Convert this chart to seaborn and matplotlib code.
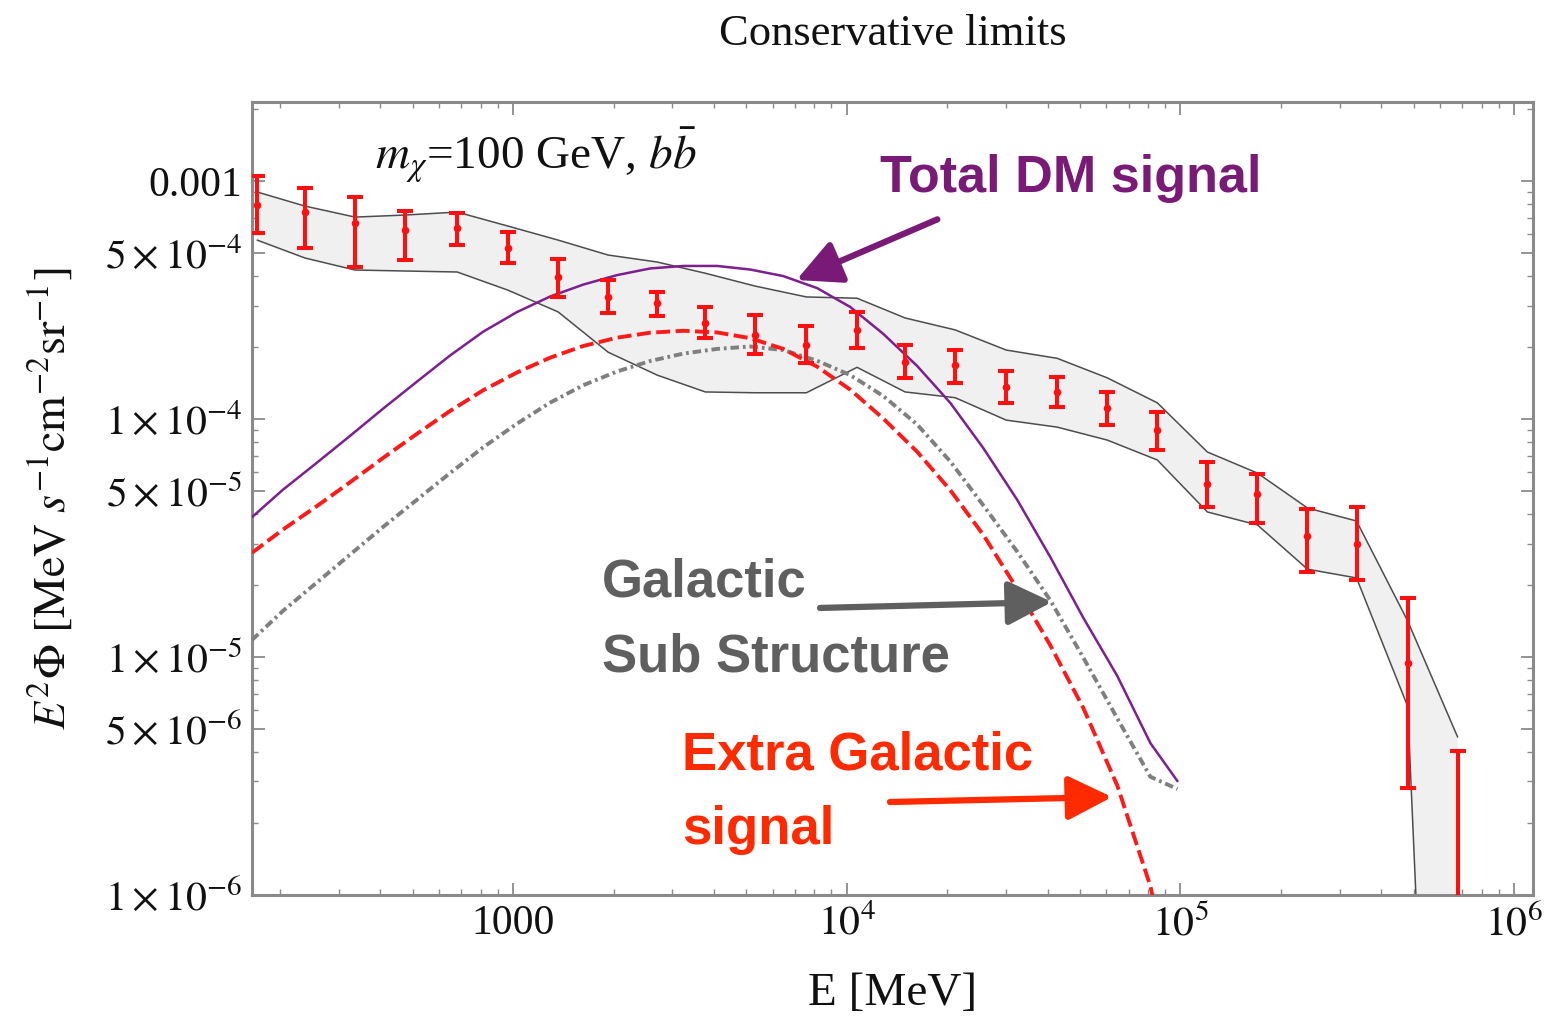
import numpy as np
import pandas as pd
import matplotlib
matplotlib.use("Agg")
import matplotlib.pyplot as plt
import seaborn as sns
from matplotlib.ticker import FixedLocator, FixedFormatter, LogLocator, NullFormatter

# ---------------- data ----------------
energy_data = [171, 238, 336, 474, 680, 966, 1365, 1927, 2704, 3770, 5320, 7570,
               10740, 14960, 21130, 30060, 42740, 60390, 85300, 120500, 170200,
               240400, 337200, 479700, 677600]
flux_mid = [7.93e-4, 7.41e-4, 6.66e-4, 6.22e-4, 6.35e-4, 5.23e-4, 3.95e-4, 3.26e-4,
            3.07e-4, 2.53e-4, 2.25e-4, 2.05e-4, 2.37e-4, 1.73e-4, 1.69e-4, 1.36e-4,
            1.30e-4, 1.11e-4, 9.0e-5, 5.33e-5, 4.84e-5, 3.22e-5, 2.98e-5, 9.44e-6, 3.0e-7]
flux_hi = [1.05e-3, 9.35e-4, 8.57e-4, 7.48e-4, 7.34e-4, 6.11e-4, 4.70e-4, 3.84e-4,
           3.42e-4, 2.96e-4, 2.74e-4, 2.46e-4, 2.82e-4, 2.05e-4, 1.95e-4, 1.59e-4,
           1.50e-4, 1.30e-4, 1.07e-4, 6.59e-5, 5.87e-5, 4.19e-5, 4.27e-5, 1.77e-5, 4.03e-6]
flux_lo = [6.05e-4, 5.23e-4, 4.35e-4, 4.66e-4, 5.38e-4, 4.52e-4, 3.26e-4, 2.79e-4,
           2.71e-4, 2.19e-4, 1.87e-4, 1.72e-4, 1.99e-4, 1.49e-4, 1.42e-4, 1.17e-4,
           1.12e-4, 9.44e-5, 7.41e-5, 4.27e-5, 3.66e-5, 2.28e-5, 2.11e-5, 2.82e-6, 1e-8]
band_upper = [9.0e-4, 7.85e-4, 7.06e-4, 7.2e-4, 7.41e-4, 6.47e-4, 5.65e-4, 4.89e-4,
              4.57e-4, 4.10e-4, 3.62e-4, 3.26e-4, 3.22e-4, 2.66e-4, 2.37e-4, 1.95e-4,
              1.80e-4, 1.49e-4, 1.17e-4, 7.27e-5, 5.93e-5, 4.23e-5, 3.73e-5, 1.42e-5, 4.61e-6]
band_lower = [5.65e-4, 4.75e-4, 4.23e-4, 4.19e-4, 4.15e-4, 3.48e-4, 2.82e-4, 1.91e-4,
              1.53e-4, 1.30e-4, 1.29e-4, 1.29e-4, 1.65e-4, 1.30e-4, 1.23e-4, 9.9e-5,
              9.25e-5, 8.16e-5, 6.73e-5, 4.07e-5, 3.59e-5, 2.34e-5, 2.15e-5, 6.22e-6, 1e-10]

curve_energy = [165, 204, 258, 325, 408, 515, 647, 813, 1028, 1291, 1622, 2050, 2576,
                3234, 4090, 5136, 6451, 8154, 10240, 12870, 16270, 20430, 25670,
                32450, 40760, 51200, 64720, 81290, 98000]
total_dm = [3.87e-5, 5.04e-5, 6.55e-5, 8.51e-5, 1.107e-4, 1.436e-4, 1.849e-4, 2.328e-4,
            2.818e-4, 3.273e-4, 3.673e-4, 4.027e-4, 4.295e-4, 4.40e-4, 4.40e-4, 4.25e-4,
            3.99e-4, 3.55e-4, 2.96e-4, 2.28e-4, 1.67e-4, 1.17e-4, 7.55e-5, 4.57e-5,
            2.63e-5, 1.46e-5, 8.32e-6, 4.35e-6, 3.01e-6]
extra_galactic = [2.742e-5, 3.428e-5, 4.305e-5, 5.433e-5, 6.871e-5, 8.67e-5, 1.081e-4,
                  1.321e-4, 1.57e-4, 1.811e-4, 2.028e-4, 2.198e-4, 2.307e-4, 2.35e-4,
                  2.312e-4, 2.188e-4, 1.972e-4, 1.66e-4, 1.33e-4, 1.005e-4, 7.28e-5,
                  5.03e-5, 3.26e-5, 1.93e-5, 1.12e-5, 6.1e-6, 2.88e-6, 1.09e-6, 3.2e-7]
galactic_sub = [1.18e-5, 1.56e-5, 2.056e-5, 2.698e-5, 3.524e-5, 4.581e-5, 5.929e-5,
                7.603e-5, 9.572e-5, 1.172e-4, 1.387e-4, 1.585e-4, 1.754e-4, 1.884e-4,
                1.972e-4, 2.018e-4, 1.95e-4, 1.758e-4, 1.531e-4, 1.25e-4, 9.48e-5,
                6.64e-5, 4.34e-5, 2.77e-5, 1.73e-5, 9.93e-6, 5.52e-6, 3.14e-6, 2.79e-6]

y_ticks = [1e-6, 5e-6, 1e-5, 5e-5, 1e-4, 5e-4, 1e-3]
y_tick_labels = [r"$1\times10^{-6}$", r"$5\times10^{-6}$", r"$1\times10^{-5}$",
                 r"$5\times10^{-5}$", r"$1\times10^{-4}$", r"$5\times10^{-4}$", "0.001"]
x_ticks = [1e3, 1e4, 1e5, 1e6]
x_tick_labels = ["1000", r"$10^4$", r"$10^5$", r"$10^6$"]

# ---------------- style ----------------
sns.set_theme(style="ticks")
plt.rcParams["font.family"] = ["Liberation Serif", "DejaVu Serif"]
plt.rcParams["mathtext.fontset"] = "stix"

fig = plt.figure(figsize=(15.44, 10.25), dpi=100)
ax = fig.add_axes([0.1632, 0.1268, 0.8297, 0.7737])
ax.set_xscale("log")
ax.set_yscale("log")

frame_col = "#8a8a8a"
purple = "#7a1a77"
red_line = "#ff1a1a"
gray_line = "#7f7f7f"

# band
ax.fill_between(energy_data, band_lower, band_upper, color="#f0f0f0", zorder=1, lw=0)
ax.plot(energy_data, band_upper, color="#4d4d4d", lw=1.1, zorder=2)
ax.plot(energy_data, band_lower, color="#4d4d4d", lw=1.1, zorder=2)

# curves via seaborn
df = pd.DataFrame({"E": curve_energy, "total": total_dm,
                   "extra": extra_galactic, "gal": galactic_sub})
sns.lineplot(data=df, x="E", y="gal", ax=ax, color=gray_line, lw=2.8, zorder=3)
ax.lines[-1].set_dashes([2.2, 1.0, 0.7, 1.0])
sns.lineplot(data=df, x="E", y="extra", ax=ax, color=red_line, lw=2.8, zorder=3)
ax.lines[-1].set_dashes([3.6, 1.4])
sns.lineplot(data=df, x="E", y="total", ax=ax, color="#7d1f8e", lw=1.8, zorder=4)

# data points
mid = np.array(flux_mid)
ax.errorbar(energy_data, mid, yerr=[mid - np.array(flux_lo), np.array(flux_hi) - mid],
            fmt="o", ms=4.5, color="#ff1010", ecolor="#ff1010", elinewidth=2.9,
            capsize=6, capthick=2.9, zorder=5)

ax.set_xlim(165, 1.14e6)
ax.set_ylim(1e-6, 2.15e-3)

ax.xaxis.set_major_locator(FixedLocator(x_ticks))
ax.xaxis.set_major_formatter(FixedFormatter(x_tick_labels))
ax.xaxis.set_minor_locator(LogLocator(base=10, subs=[2, 3, 4, 5, 6, 7, 8, 9], numticks=20))
ax.xaxis.set_minor_formatter(NullFormatter())
ax.yaxis.set_major_locator(FixedLocator(y_ticks))
ax.yaxis.set_major_formatter(FixedFormatter(y_tick_labels))
ax.yaxis.set_minor_locator(LogLocator(base=10, subs=[2, 3, 4, 6, 7, 8, 9], numticks=20))
ax.yaxis.set_minor_formatter(NullFormatter())

ax.tick_params(which="both", direction="in", top=True, right=True, color=frame_col,
               labelcolor="#111111")
ax.tick_params(which="major", length=9, width=1.3, labelsize=30, pad=7)
ax.tick_params(which="minor", length=4.5, width=1.0)
for s in ax.spines.values():
    s.set_color(frame_col)
    s.set_linewidth(2.2)

ax.set_xlabel("E [MeV]", fontsize=34, color="#111111")
ax.xaxis.set_label_coords(0.5, -0.098)
ax.set_ylabel(r"$E^2\Phi\ [\mathrm{MeV}\ s^{-1}\mathrm{cm}^{-2}\mathrm{sr}^{-1}]$",
              fontsize=33, color="#111111")
ax.yaxis.set_label_coords(-0.138, 0.5)

fig.text(0.5784, 0.956, "Conservative limits", ha="center", va="baseline",
         fontsize=32, color="#111111")
ax.text(0.096, 0.914, r"$m_\chi$=100 GeV, $b\bar{b}$", transform=ax.transAxes,
        ha="left", va="baseline", fontsize=34, color="#111111")

# annotations
sans = ["Liberation Sans", "DejaVu Sans"]
ax.text(0.490, 0.8865, "Total DM signal", transform=ax.transAxes, ha="left",
        va="baseline", fontsize=37.5, fontweight="bold", color=purple, family=sans)
ax.text(0.2732, 0.376, "Galactic", transform=ax.transAxes, ha="left",
        va="baseline", fontsize=38, fontweight="bold", color="#5f5f5f", family=sans)
ax.text(0.2732, 0.2815, "Sub Structure", transform=ax.transAxes, ha="left",
        va="baseline", fontsize=38, fontweight="bold", color="#5f5f5f", family=sans)
ax.text(0.3357, 0.158, "Extra Galactic", transform=ax.transAxes, ha="left",
        va="baseline", fontsize=38, fontweight="bold", color="#ff2a00", family=sans)
ax.text(0.3357, 0.064, "signal", transform=ax.transAxes, ha="left",
        va="baseline", fontsize=38, fontweight="bold", color="#ff2a00", family=sans)

def arrow(tail, tip, col):
    ax.annotate("", xy=tip, xytext=tail, xycoords="axes fraction",
                textcoords="axes fraction",
                arrowprops=dict(arrowstyle="-|>,head_length=0.9,head_width=0.45",
                                color=col, lw=4.5, mutation_scale=30,
                                shrinkA=0, shrinkB=0), zorder=6)

arrow((0.535, 0.852), (0.425, 0.7755), purple)
arrow((0.4434, 0.362), (0.6245, 0.3695), "#5f5f5f")
arrow((0.498, 0.1173), (0.6714, 0.1236), "#ff2a00")

fig.savefig("out.png", dpi=100)
